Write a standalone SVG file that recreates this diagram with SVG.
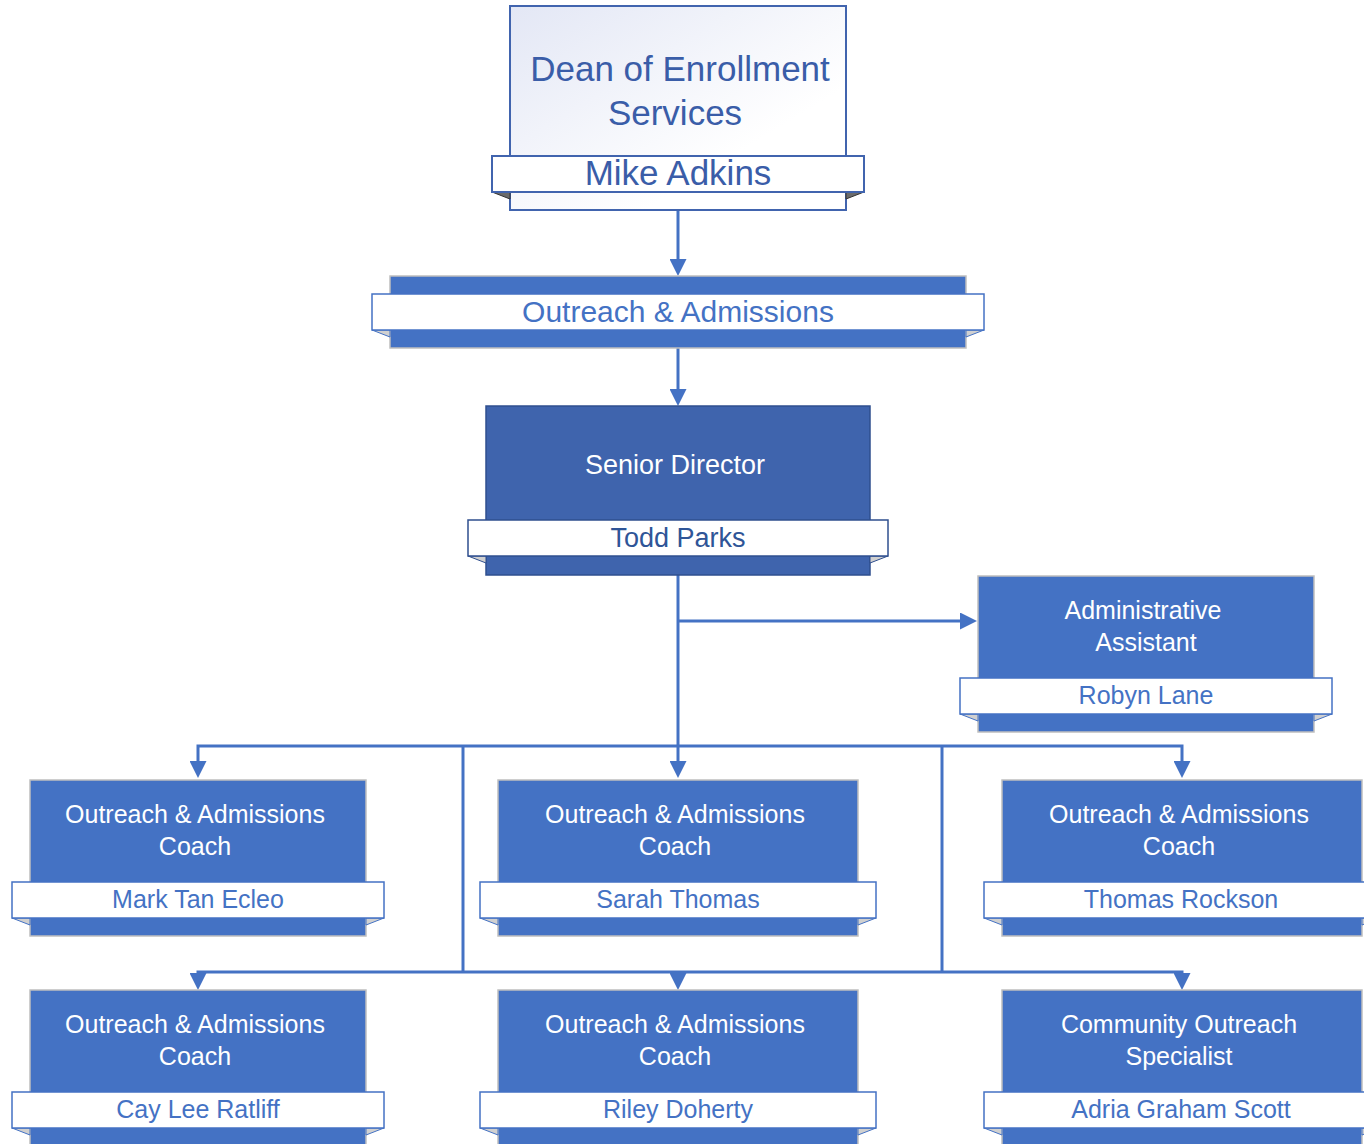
<svg xmlns="http://www.w3.org/2000/svg" width="1364" height="1144" viewBox="0 0 1364 1144">
<style>
  text { font-family: "Liberation Sans", Arial, sans-serif; text-anchor: middle; }
  .conn { fill: none; stroke: #4472C4; stroke-width: 3; }
  .box { fill: #4472C4; stroke: #BFBFBF; stroke-width: 1.5; }
  .band { fill: #FFFFFF; stroke: #4472C4; stroke-width: 1.5; }
  .fold { fill: #D0D0D0; stroke: #4472C4; stroke-width: 1; }
  .title { fill: #FFFFFF; font-size: 25px; }
  .name { fill: #4472C4; font-size: 25px; }
</style>
<defs>
  <linearGradient id="deanGrad" x1="0" y1="0" x2="1" y2="1">
    <stop offset="0" stop-color="#E3E7F5"/>
    <stop offset="0.7" stop-color="#FFFFFF"/>
  </linearGradient>
  <marker id="arr" viewBox="0 0 17 17" refX="0" refY="8.5" markerWidth="17" markerHeight="17" markerUnits="userSpaceOnUse" orient="auto">
    <path d="M0,0 L17,8.5 L0,17 Z" fill="#4472C4"/>
  </marker>
</defs>

<g id="connectors">
  <path class="conn" d="M678,210 V259" marker-end="url(#arr)"/>
  <path class="conn" d="M678,348 V389" marker-end="url(#arr)"/>
  <path class="conn" d="M678,575 V761" marker-end="url(#arr)"/>
  <path class="conn" d="M678,621 H960" marker-end="url(#arr)"/>
  <path class="conn" d="M678,746 H198 V761" marker-end="url(#arr)"/>
  <path class="conn" d="M678,746 H1182 V761" marker-end="url(#arr)"/>
  <path class="conn" d="M463,746 V972"/>
  <path class="conn" d="M942,746 V972"/>
  <path class="conn" d="M463,972 H198 V973" marker-end="url(#arr)"/>
  <path class="conn" d="M463,972 H942"/>
  <path class="conn" d="M678,972 V973" marker-end="url(#arr)"/>
  <path class="conn" d="M942,972 H1182 V973" marker-end="url(#arr)"/>
</g>

<g id="dean">
  <rect x="510" y="6" width="336" height="204" fill="url(#deanGrad)" stroke="#4164AE" stroke-width="2"/>
  <polygon points="492,192 510,192 510,199" fill="#6B6B6B" stroke="#333333" stroke-width="1"/>
  <polygon points="864,192 846,192 846,199" fill="#6B6B6B" stroke="#333333" stroke-width="1"/>
  <rect x="492" y="156" width="372" height="36" fill="#FFFFFF" stroke="#4164AE" stroke-width="2"/>
  <text x="680" y="81" font-size="35" fill="#3A5DA8">Dean of Enrollment</text>
  <text x="675" y="125" font-size="35" fill="#3A5DA8">Services</text>
  <text x="678" y="185" font-size="35" fill="#3A5DA8">Mike Adkins</text>
</g>

<g id="outreach-admissions">
  <rect class="box" x="390" y="276" width="576" height="72"/>
  <polygon class="fold" points="372,330 390,330 390,337"/>
  <polygon class="fold" points="984,330 966,330 966,337"/>
  <rect class="band" x="372" y="294" width="612" height="36"/>
  <text x="678" y="322" font-size="30" fill="#4472C4">Outreach &amp; Admissions</text>
</g>

<g id="senior-director">
  <rect x="486" y="406" width="384" height="169" fill="#3F64AD" stroke="#2F4F8F" stroke-width="1.5"/>
  <polygon points="468,556 486,556 486,563" fill="#D0D0D0" stroke="#2F4F8F" stroke-width="1"/>
  <polygon points="888,556 870,556 870,563" fill="#D0D0D0" stroke="#2F4F8F" stroke-width="1"/>
  <rect x="468" y="520" width="420" height="36" fill="#FFFFFF" stroke="#2F4F8F" stroke-width="1.5"/>
  <text x="675" y="474" font-size="27" fill="#FFFFFF">Senior Director</text>
  <text x="678" y="547" font-size="27" fill="#2F5597">Todd Parks</text>
</g>

<g id="admin-assistant">
  <rect class="box" x="978" y="576" width="336" height="156"/>
  <polygon class="fold" points="960,714 978,714 978,721"/>
  <polygon class="fold" points="1332,714 1314,714 1314,721"/>
  <rect class="band" x="960" y="678" width="372" height="36"/>
  <text class="title" x="1143" y="619">Administrative</text>
  <text class="title" x="1146" y="651">Assistant</text>
  <text class="name" x="1146" y="704">Robyn Lane</text>
</g>

<g id="coach-mark">
  <rect class="box" x="30" y="780" width="336" height="156"/>
  <polygon class="fold" points="12,918 30,918 30,925"/>
  <polygon class="fold" points="384,918 366,918 366,925"/>
  <rect class="band" x="12" y="882" width="372" height="36"/>
  <text class="title" x="195" y="823">Outreach &amp; Admissions</text>
  <text class="title" x="195" y="855">Coach</text>
  <text class="name" x="198" y="908">Mark Tan Ecleo</text>
</g>

<g id="coach-sarah">
  <rect class="box" x="498" y="780" width="360" height="156"/>
  <polygon class="fold" points="480,918 498,918 498,925"/>
  <polygon class="fold" points="876,918 858,918 858,925"/>
  <rect class="band" x="480" y="882" width="396" height="36"/>
  <text class="title" x="675" y="823">Outreach &amp; Admissions</text>
  <text class="title" x="675" y="855">Coach</text>
  <text class="name" x="678" y="908">Sarah Thomas</text>
</g>

<g id="coach-thomas">
  <rect class="box" x="1002" y="780" width="360" height="156"/>
  <polygon class="fold" points="984,918 1002,918 1002,925"/>
  <polygon class="fold" points="1380,918 1362,918 1362,925"/>
  <rect class="band" x="984" y="882" width="396" height="36"/>
  <text class="title" x="1179" y="823">Outreach &amp; Admissions</text>
  <text class="title" x="1179" y="855">Coach</text>
  <text class="name" x="1181" y="908">Thomas Rockson</text>
</g>

<g id="coach-cay">
  <rect class="box" x="30" y="990" width="336" height="156"/>
  <polygon class="fold" points="12,1128 30,1128 30,1135"/>
  <polygon class="fold" points="384,1128 366,1128 366,1135"/>
  <rect class="band" x="12" y="1092" width="372" height="36"/>
  <text class="title" x="195" y="1033">Outreach &amp; Admissions</text>
  <text class="title" x="195" y="1065">Coach</text>
  <text class="name" x="198" y="1118">Cay Lee Ratliff</text>
</g>

<g id="coach-riley">
  <rect class="box" x="498" y="990" width="360" height="156"/>
  <polygon class="fold" points="480,1128 498,1128 498,1135"/>
  <polygon class="fold" points="876,1128 858,1128 858,1135"/>
  <rect class="band" x="480" y="1092" width="396" height="36"/>
  <text class="title" x="675" y="1033">Outreach &amp; Admissions</text>
  <text class="title" x="675" y="1065">Coach</text>
  <text class="name" x="678" y="1118">Riley Doherty</text>
</g>

<g id="community-outreach">
  <rect class="box" x="1002" y="990" width="360" height="156"/>
  <polygon class="fold" points="984,1128 1002,1128 1002,1135"/>
  <polygon class="fold" points="1380,1128 1362,1128 1362,1135"/>
  <rect class="band" x="984" y="1092" width="396" height="36"/>
  <text class="title" x="1179" y="1033">Community Outreach</text>
  <text class="title" x="1179" y="1065">Specialist</text>
  <text class="name" x="1181" y="1118">Adria Graham Scott</text>
</g>
</svg>
